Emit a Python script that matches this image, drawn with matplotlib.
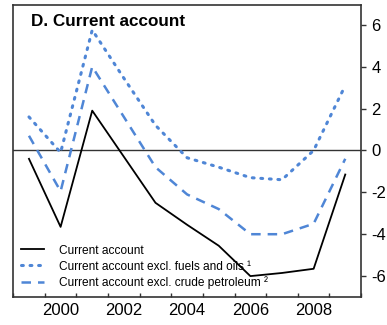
import matplotlib
matplotlib.use("Agg")
import matplotlib.pyplot as plt
from matplotlib.ticker import FixedLocator, NullFormatter

plt.rcParams['font.family'] = ['Liberation Sans', 'DejaVu Sans']

years = [1999, 2000, 2001, 2002, 2003, 2004, 2005, 2006, 2007, 2008, 2009]
current_account = [-0.4, -3.65, 1.9, -0.3, -2.5, -3.55, -4.55, -6.0, -5.85, -5.65, -1.15]
excl_fuels_oils = [1.6, -0.1, 5.75, 3.45, 1.2, -0.35, -0.8, -1.3, -1.4, 0.0, 3.1]
excl_crude = [0.7, -1.95, 4.0, 1.6, -0.8, -2.1, -2.8, -4.0, -4.0, -3.5, -0.4]

y_ticks = [-6, -4, -2, 0, 2, 4, 6]
x_label_years = [2000, 2002, 2004, 2006, 2008]

labels = ["Current account",
          "Current account excl. fuels and oils \u00b9",
          "Current account excl. crude petroleum \u00b2"]

blue = "#4f86d6"

fig = plt.figure(figsize=(3.87, 3.25), dpi=100)
ax = fig.add_axes([0.034, 0.086, 0.899, 0.899])

ax.axhline(0, color="#333333", lw=1.0, zorder=1)
ax.plot(years, current_account, color="black", lw=1.3, label=labels[0], zorder=3)
ax.plot(years, excl_fuels_oils, color=blue, lw=2.2, linestyle=(0, (0.6, 2.2)),
        dash_capstyle="round", label=labels[1], zorder=2)
ax.plot(years, excl_crude, color=blue, lw=1.8, linestyle=(0, (3.8, 2.8)),
        label=labels[2], zorder=2)

ax.set_xlim(1998.5, 2009.5)
ax.set_ylim(-7, 6.95)

for s in ax.spines.values():
    s.set_color("#333333")
    s.set_linewidth(1.2)

# x axis: year-boundary ticks inside, labels at even years
ax.xaxis.set_major_locator(FixedLocator([y + 0.5 for y in range(1998, 2010)]))
ax.xaxis.set_major_formatter(NullFormatter())
ax.xaxis.set_minor_locator(FixedLocator(x_label_years))
ax.set_xticklabels([str(y) for y in x_label_years], minor=True)
ax.tick_params(axis="x", which="major", direction="in", length=3, width=1, color="#333333")
ax.tick_params(axis="x", which="minor", length=0, pad=4, labelsize=12)

# y axis on the right
ax.yaxis.tick_right()
ax.set_yticks(y_ticks)
ax.set_yticklabels([str(v) for v in y_ticks])
ax.tick_params(axis="y", direction="out", length=3.5, width=1, color="#333333",
               pad=4, labelsize=12)

fig.text(0.079, 0.921, "D. Current account", fontsize=12.3, fontweight="bold",
         ha="left", va="baseline")

leg = ax.legend(loc="lower left", bbox_to_anchor=(0.0, 0.0), frameon=False,
                fontsize=8.6, handlelength=1.9, handletextpad=1.3, labelspacing=0.33,
                borderaxespad=0.35, borderpad=0.3)

fig.savefig("out.png", dpi=100)
